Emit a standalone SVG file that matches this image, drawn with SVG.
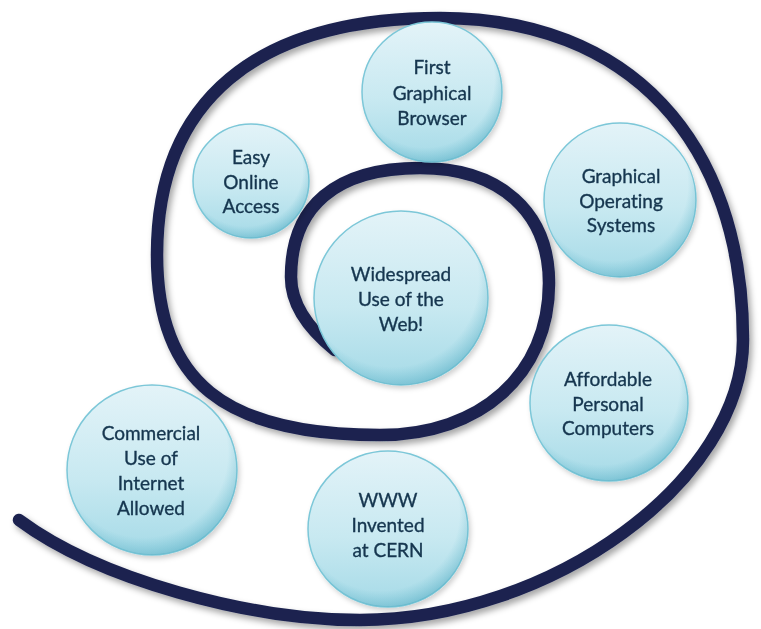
<svg xmlns="http://www.w3.org/2000/svg" width="761" height="629" viewBox="0 0 761 629">
<defs>
<linearGradient id="bub" x1="0" y1="0" x2="0" y2="1">
<stop offset="0" stop-color="#e3f3f8"/>
<stop offset="0.55" stop-color="#c8e9f1"/>
<stop offset="1" stop-color="#a5dae7"/>
</linearGradient>
<radialGradient id="rim" cx="0.45" cy="0.4" r="0.62">
<stop offset="0.8" stop-color="#5fb6cb" stop-opacity="0"/>
<stop offset="1" stop-color="#4fa9c0" stop-opacity="0.55"/>
</radialGradient>
<filter id="sh" x="-10%" y="-10%" width="125%" height="125%">
<feGaussianBlur in="SourceAlpha" stdDeviation="3"/>
<feOffset dx="3" dy="4" result="b"/>
<feFlood flood-color="#000" flood-opacity="0.35"/>
<feComposite in2="b" operator="in"/>
<feMerge><feMergeNode/><feMergeNode in="SourceGraphic"/></feMerge>
</filter>
<filter id="bsh" x="-10%" y="-10%" width="125%" height="125%">
<feGaussianBlur in="SourceAlpha" stdDeviation="2.5"/>
<feOffset dx="2" dy="3" result="b"/>
<feFlood flood-color="#000" flood-opacity="0.18"/>
<feComposite in2="b" operator="in"/>
<feMerge><feMergeNode/><feMergeNode in="SourceGraphic"/></feMerge>
</filter>
</defs>
<style>
.sp{fill:none;stroke:#1b2350;stroke-width:12.5;stroke-linecap:round}
.b{fill:url(#bub);stroke:#7cc7d8;stroke-width:1.5}
.r{fill:url(#rim);stroke:none}
.t{font-family:Lato,"Open Sans",sans-serif;font-size:19px;fill:#15364f;stroke:#15364f;stroke-width:0.35;text-anchor:middle;font-variant-ligatures:none}
</style>
<rect width="761" height="629" fill="#ffffff"/>
<g id="connectors">
<path class="sp" filter="url(#sh)" d="M335 350 C310 330 291 305 291 277 C291 206 336 168 420 168 C500 168 549 212 549 283 C549 374 481 435 380 435 C224 435 157 381 157 255 C157 101 256 18 440 18 C628 18 743 140 743 340 C743 480 552 620 360 620 C250 620 100 580 19 520"/>
</g>
<g id="first-browser" filter="url(#bsh)">
<ellipse class="b" cx="432" cy="92" rx="70" ry="70"/>
<ellipse class="r" cx="432" cy="92" rx="70" ry="70"/>
<text class="t" x="432" y="74">First</text>
<text class="t" x="432" y="100">Graphical</text>
<text class="t" x="432" y="125">Browser</text>
</g>
<g id="easy-online" filter="url(#bsh)">
<ellipse class="b" cx="251" cy="181" rx="58" ry="57"/>
<ellipse class="r" cx="251" cy="181" rx="58" ry="57"/>
<text class="t" x="251" y="164">Easy</text>
<text class="t" x="251" y="189">Online</text>
<text class="t" x="251" y="213">Access</text>
</g>
<g id="graphical-os" filter="url(#bsh)">
<ellipse class="b" cx="620" cy="200" rx="76" ry="77"/>
<ellipse class="r" cx="620" cy="200" rx="76" ry="77"/>
<text class="t" x="621" y="183">Graphical</text>
<text class="t" x="621" y="208">Operating</text>
<text class="t" x="621" y="232">Systems</text>
</g>
<g id="widespread" filter="url(#bsh)">
<ellipse class="b" cx="401" cy="298" rx="87" ry="87"/>
<ellipse class="r" cx="401" cy="298" rx="87" ry="87"/>
<text class="t" x="401" y="281">Widespread</text>
<text class="t" x="401" y="306">Use of the</text>
<text class="t" x="401" y="331">Web!</text>
</g>
<g id="affordable-pc" filter="url(#bsh)">
<ellipse class="b" cx="609" cy="403" rx="79" ry="78"/>
<ellipse class="r" cx="609" cy="403" rx="79" ry="78"/>
<text class="t" x="608" y="386">Affordable</text>
<text class="t" x="608" y="411">Personal</text>
<text class="t" x="608" y="435">Computers</text>
</g>
<g id="commercial-internet" filter="url(#bsh)">
<ellipse class="b" cx="152" cy="470" rx="85" ry="85"/>
<ellipse class="r" cx="152" cy="470" rx="85" ry="85"/>
<text class="t" x="151" y="440">Commercial</text>
<text class="t" x="151" y="465">Use of</text>
<text class="t" x="151" y="490">Internet</text>
<text class="t" x="151" y="515">Allowed</text>
</g>
<g id="www-cern" filter="url(#bsh)">
<ellipse class="b" cx="388" cy="529" rx="80" ry="78"/>
<ellipse class="r" cx="388" cy="529" rx="80" ry="78"/>
<text class="t" x="388" y="507">WWW</text>
<text class="t" x="388" y="532">Invented</text>
<text class="t" x="388" y="557">at CERN</text>
</g>
</svg>
